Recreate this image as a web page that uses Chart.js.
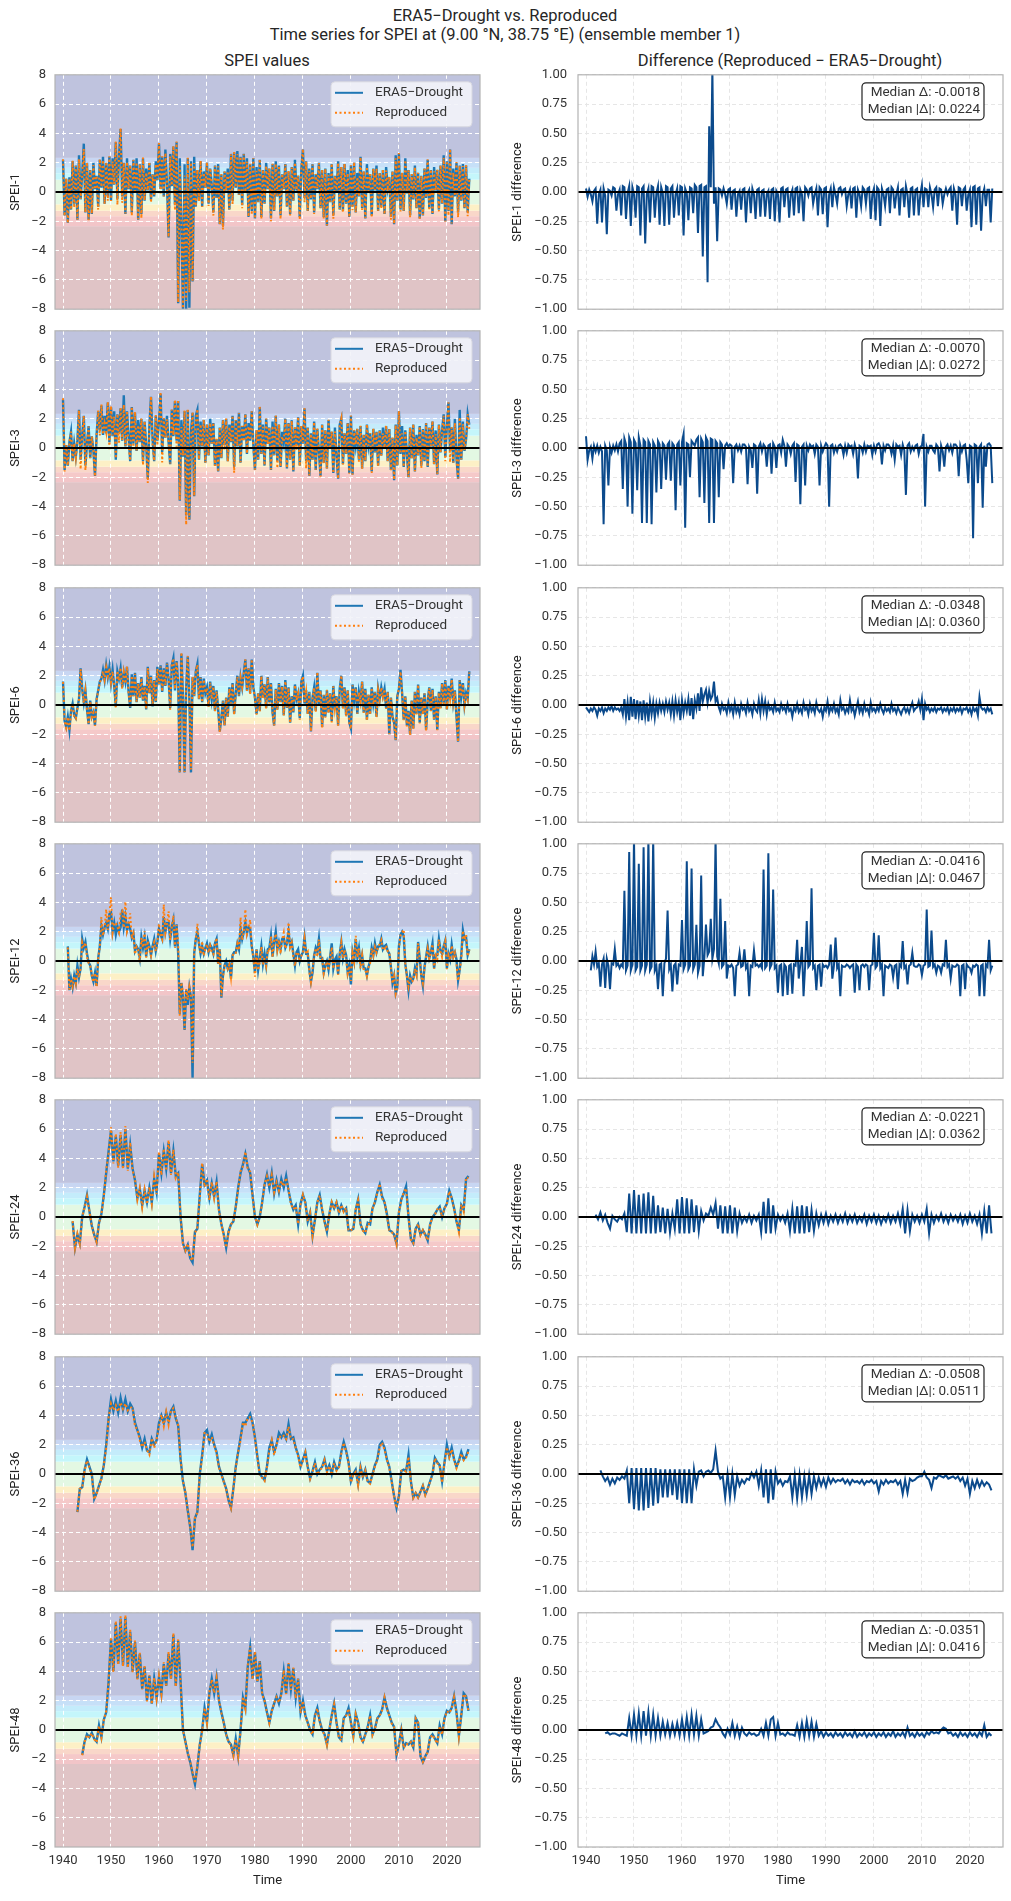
<!DOCTYPE html>
<html>
<head>
<meta charset="utf-8">
<script src="https://cdn.jsdelivr.net/npm/chart.js@4.4.0/dist/chart.umd.min.js"></script>
<style>
  body { margin: 0; background: #fff; width: 1011px; height: 1901px; position: relative; font-family: Roboto, sans-serif; color: #262626; overflow: hidden; }
  canvas { position: absolute; }
  .t { position: absolute; font-size: 16.5px; line-height: 19px; white-space: nowrap; transform: translateX(-50%); }
</style>
</head>
<body>
<div class="t" style="left:505px;top:6px">ERA5−Drought vs. Reproduced</div>
<div class="t" style="left:505px;top:25px">Time series for SPEI at (9.00 °N, 38.75 °E) (ensemble member 1)</div>
<div class="t" style="left:267px;top:51px">SPEI values</div>
<div class="t" style="left:790px;top:51px">Difference (Reproduced − ERA5−Drought)</div>
<script>
// ---- data (monthly series resampled by eye) ----
const scales = ['SPEI-1', 'SPEI-3', 'SPEI-6', 'SPEI-12', 'SPEI-24', 'SPEI-36', 'SPEI-48'];
const seriesStart = [1940, 1940, 1940, 1941, 1942, 1943, 1944];
const seriesStep = [1/3, 1/3, 1/3, 1/3, 0.5, 0.5, 0.5];
const medianDelta = ['-0.0018', '-0.0070', '-0.0348', '-0.0416', '-0.0221', '-0.0508', '-0.0351'];
const medianAbsDelta = ['0.0224', '0.0272', '0.0360', '0.0467', '0.0362', '0.0511', '0.0416'];
const xTicks = [1940, 1950, 1960, 1970, 1980, 1990, 2000, 2010, 2020];
const speiTicks = [-8, -6, -4, -2, 0, 2, 4, 6, 8];
const diffTicks = [-1, -0.75, -0.5, -0.25, 0, 0.25, 0.5, 0.75, 1];
// drought class edges for the shaded bands
const bandEdges = [-8, -2.33, -2.0, -1.65, -1.28, -0.84, 0.84, 1.28, 1.65, 2.0, 2.33, 8];

const spei1 = [
  2.2,-1.6,0.9, -2.1,1.0,-1.2, 2.1,-0.8,1.8, -1.9,2.5,-0.5, 1.2,3.3,-1.4,
  2.0,-1.9,1.5, -1.5,2.0,0.2, 1.1,-1.0,2.2, 0.3,2.4,-0.8, 2.0,-0.3,2.4,
  -0.6,2.3,0.5, 3.4,-0.5,2.4, 4.3,-0.3,2.0, -1.5,2.3,0.2, 1.8,-1.4,2.2,
  0.0,2.3,-1.9, 1.9,-1.5,2.3, -0.6,1.6,0.1, 2.0,-0.5,1.2, -0.3,2.1,0.8,
  3.3,0.2,2.4, -0.3,2.9,0.6, -3.1,2.6,0.4, 3.1,-0.9,3.4, -7.6,2.3,-2.0,
  -8.0,1.9,-8.0, 2.3,-7.9,2.1, -6.1,2.4,-1.0, 1.5,-0.6,2.1, -1.0,1.4,0.3,
  2.0,-0.8,1.6, 0.5,-1.4,1.8, -0.4,1.9,-2.2, 1.2,-2.3,1.4, 0.1,1.6,-1.2,
  2.6,-0.6,2.7, 0.3,2.8,-0.2, 2.4,-0.9,2.6, 0.0,2.3,-1.7, 1.9,-1.3,2.3,
  -1.8,1.7,-0.7, 2.2,-1.7,1.5, -0.8,2.0,0.2, 1.6,-1.8,1.9, -1.3,2.1,-0.3,
  1.8,-1.6,1.2, 0.2,1.9,-1.0, 1.4,-1.5,1.7, -0.6,2.2,0.1, 1.1,-1.7,1.6,
  2.9,-0.4,2.1, -1.3,1.6,-0.5, 1.9,-1.4,1.2, 0.2,2.0,-1.1, 1.5,-1.7,1.6,
  -2.3,1.3,-0.7, 1.9,-1.6,1.1, 0.0,2.1,-1.2, 1.7,-1.3,1.9, -0.8,1.5,-1.7,
  1.8,-1.0,2.0, -1.4,1.3,-0.3, 2.4,-1.1,1.4, -1.8,1.9,0.0, 1.2,-1.6,1.6,
  0.1,1.8,-1.3, 1.3,-1.0,1.5, -1.5,1.7,0.3, 1.0,-1.7,1.4, -2.2,2.5,-0.6,
  2.6,-1.2,1.3, -1.3,2.3,-0.1, 1.5,-1.6,1.2, -0.5,1.8,-1.1, 1.3,-1.8,1.1,
  -1.6,1.6,-0.4, 2.2,-1.1,1.5, -1.5,1.7,0.1, 1.5,-1.2,1.8, -0.8,2.5,-2.0,
  2.1,-1.3,2.9, -2.2,1.6,-0.3, 2.0,-1.4,1.8, -0.6,1.9,-1.1, 1.8,-1.4,0.9
];
const diff1 = [
  0.03,-0.04,0.02, -0.02,-0.08,0.01, 0.03,-0.27,-0.02, 0.02,-0.26,0.03, -0.03,-0.36,0.02,
  0.01,-0.03,0.04, 0.03,-0.16,-0.02, 0.02,-0.20,0.05, 0.04,-0.23,-0.01, 0.05,-0.29,0.04,
  -0.02,-0.22,0.05, 0.04,-0.37,0.03, 0.05,-0.44,-0.02, 0.03,-0.26,0.05, 0.04,-0.22,-0.01,
  0.05,-0.28,0.04, -0.01,-0.29,0.05, 0.04,-0.28,0.03, 0.05,-0.22,-0.02, 0.03,-0.20,0.05,
  0.04,-0.37,0.03, -0.01,-0.24,0.04, 0.03,-0.18,0.06, 0.04,-0.35,0.05, 0.06,-0.55,0.04,
  0.05,-0.77,0.56, 0.04,1.05,-0.10, 0.04,-0.42,0.03, 0.02,-0.03,0.03, -0.02,-0.10,0.02,
  0.03,-0.15,0.01, 0.02,-0.21,-0.02, 0.01,-0.15,0.02, 0.03,-0.26,-0.01, 0.02,-0.18,0.03,
  -0.02,-0.23,0.02, 0.03,-0.21,0.01, 0.02,-0.21,-0.02, 0.01,-0.23,0.02, 0.03,-0.25,0.01,
  -0.02,-0.26,0.03, 0.04,-0.13,0.02, 0.03,-0.22,-0.02, 0.02,-0.20,0.03, 0.04,-0.18,0.02,
  -0.02,-0.25,0.04, 0.02,-0.03,0.03, 0.04,-0.10,-0.02, 0.03,-0.20,0.04, 0.02,-0.19,0.03,
  0.04,-0.30,-0.02, 0.03,-0.13,0.04, -0.02,-0.10,0.03, 0.04,-0.02,0.02, 0.03,-0.12,-0.02,
  0.02,-0.14,0.03, 0.04,-0.22,0.02, -0.02,-0.12,0.04, 0.02,-0.10,0.03, 0.04,-0.23,-0.02,
  0.03,-0.24,0.04, 0.02,-0.29,0.03, -0.02,-0.12,0.02, 0.03,-0.18,0.04, 0.02,-0.14,-0.02,
  0.04,-0.20,0.02, 0.03,-0.13,0.05, -0.02,-0.22,0.03, 0.04,-0.20,0.02, 0.03,-0.20,-0.02,
  0.06,-0.13,0.03, 0.02,-0.13,0.04, -0.02,-0.13,0.02, 0.04,-0.12,0.03, 0.02,-0.10,-0.02,
  0.03,-0.02,0.02, 0.04,-0.16,0.03, -0.02,-0.28,0.04, 0.03,-0.12,0.02, 0.04,-0.16,-0.02,
  0.02,-0.30,0.04, 0.05,-0.28,0.03, 0.04,-0.33,-0.02, 0.03,-0.12,0.02, 0.02,-0.26,0.03
];
const spei3 = [
  3.3,-1.5,0.2, -1.2,0.4,1.1, -0.9,0.3,-0.6, 0.5,2.6,-0.8, 0.9,2.2,-1.2,
  0.3,1.5,-0.7, 0.8,-0.2,-1.9, 0.9,2.5,1.2, 2.9,0.9,2.2, 1.0,3.1,0.4,
  2.8,0.8,2.5, -0.8,2.3,1.0, 2.7,0.5,3.6, 0.1,2.5,0.8, -0.9,2.8,0.3,
  2.4,-0.2,1.9, 0.4,2.0,-0.9, 1.8,0.2,-2.1, 1.5,3.5,0.6, -0.9,2.2,0.5,
  1.8,3.7,-0.3, 2.0,0.7,2.2, 0.4,-1.1,2.6, 0.8,3.2,0.5, 3.2,-3.6,1.9,
  -0.6,2.5,-4.6, 2.6,-4.9,1.1, 2.4,-3.3,2.2, 2.6,-0.8,1.8, 0.1,1.9,-1.0,
  1.6,-0.5,2.0, 0.3,1.7,-1.2, 0.6,-1.6,1.4, -0.7,1.9,0.2, 2.0,-0.9,1.6,
  0.4,2.2,-1.3, 1.9,0.1,2.4, -1.0,1.5,0.6, 2.3,-0.4,1.7, 0.5,2.5,0.2,
  -1.5,1.2,-0.8, 2.8,-0.4,1.6, -1.2,2.0,0.3, 1.4,-1.5,1.8, -0.5,2.2,-0.9,
  1.6,-1.3,1.1, 0.4,2.0,-1.4, 1.7,-0.8,1.9, -1.6,1.4,0.2, 2.1,-1.2,1.5,
  0.3,2.7,-0.9, 1.4,-1.9,1.0, -0.8,1.8,-1.5, 1.3,-0.3,-1.9, 1.6,-1.0,1.2,
  -1.4,1.9,0.0, 1.1,-1.7,1.4, -0.6,-2.1,1.6, 2.0,-1.1,1.0, -0.4,1.7,-1.7,
  2.2,-1.8,1.2, 0.2,1.3,-0.8, 1.5,-1.4,0.9, -0.9,1.6,0.2, 1.0,-1.6,1.3,
  -0.3,1.1,-1.2, 1.2,-0.5,1.4, 0.0,1.5,-0.9, 1.3,-1.5,0.7, -2.2,1.6,-1.2,
  2.5,-0.4,1.5, -1.3,1.2,-0.4, -2.0,1.4,-0.7, 1.6,-1.6,0.9, -0.5,1.5,-1.2,
  1.3,-0.9,1.7, -1.3,1.4,0.1, 1.8,-1.1,1.2, -1.8,1.6,-0.3, 1.2,2.3,-0.6,
  1.5,3.1,-0.2, 1.4,-1.0,2.0, -0.7,-2.1,2.6, -0.8,1.8,-0.2, 0.6,2.3,1.6
];
const diff3 = [
  0.10,-0.10,-0.02, 0.01,-0.09,0.02, -0.03,0.02,-0.04, 0.01,-0.03,-0.65, 0.02,-0.02,-0.32,
  0.01,-0.04,0.02, -0.02,0.03,-0.03, 0.04,0.06,-0.35, 0.08,0.03,-0.50, 0.09,0.05,-0.56,
  0.07,0.04,-0.36, 0.09,0.02,-0.64, 0.07,0.05,-0.64, 0.06,0.03,-0.65, 0.05,0.02,-0.38,
  0.06,0.03,-0.35, 0.04,0.02,-0.27, 0.03,0.05,-0.28, 0.04,0.02,-0.53, 0.03,0.05,-0.32,
  0.05,0.12,-0.68, 0.04,0.03,-0.25, 0.06,0.04,0.02, 0.07,0.09,-0.42, 0.08,0.05,-0.47,
  0.09,0.06,-0.64, 0.08,0.07,-0.64, 0.06,0.04,-0.42, 0.05,0.03,-0.18, 0.02,0.04,0.01,
  0.03,0.02,-0.30, 0.01,0.03,-0.02, 0.02,-0.03,0.03, 0.03,0.01,-0.31, 0.01,-0.02,-0.17,
  0.03,0.02,-0.39, 0.01,0.04,-0.03, 0.03,0.01,-0.16, 0.02,0.03,-0.22, 0.04,0.01,-0.17,
  0.02,0.03,-0.04, 0.07,0.02,-0.16, 0.03,0.01,-0.05, 0.02,0.04,-0.29, 0.03,0.02,-0.48,
  0.01,0.03,-0.32, 0.02,-0.02,0.03, 0.01,0.02,-0.05, 0.03,0.01,-0.32, 0.02,-0.03,0.01,
  0.04,0.02,-0.50, 0.02,0.03,-0.04, 0.01,-0.03,0.02, 0.03,0.01,-0.06, 0.02,-0.04,0.03,
  0.01,0.02,-0.05, 0.03,-0.02,-0.26, 0.02,0.01,-0.04, 0.03,-0.03,0.02, 0.01,0.02,-0.06,
  0.02,-0.03,0.03, 0.04,0.01,-0.14, 0.02,-0.02,0.03, 0.03,0.01,-0.05, 0.02,-0.10,0.03,
  0.01,0.02,-0.06, 0.03,-0.02,-0.40, 0.02,0.04,-0.03, 0.01,-0.02,0.02, 0.03,-0.05,0.01,
  0.02,0.12,-0.50, 0.01,-0.03,0.02, 0.02,-0.02,-0.04, 0.03,0.01,-0.20, 0.02,-0.03,-0.16,
  0.01,0.03,-0.02, 0.02,-0.04,0.03, 0.03,0.01,-0.24, 0.02,-0.03,0.02, 0.03,-0.10,-0.30,
  0.02,0.01,-0.77, 0.03,0.02,-0.30, 0.01,0.03,-0.51, 0.02,-0.16,0.03, 0.04,0.02,-0.30
];
const spei6 = [
  1.6,-1.1,-1.5, -0.8,-1.7,-0.4, 0.1,-0.7,-0.9, -0.2,0.4,2.5, 1.1,0.2,1.0,
  -0.3,-1.3,0.3, -0.8,-0.5,-1.4, 0.4,1.0,1.6, 1.8,2.4,1.7, 2.7,1.9,2.6,
  1.5,2.4,1.3, -0.1,2.3,1.8, 2.5,1.2,2.2, 1.6,2.6,0.9, -0.2,2.1,0.6,
  2.2,0.2,1.5, 0.5,1.9,0.3, 1.3,-0.3,2.6, 0.8,2.0,-0.1, 1.7,0.2,2.6,
  1.4,2.7,0.9, 2.5,1.3,2.9, 1.8,-0.2,2.7, 3.2,1.0,3.0, 1.5,-4.6,3.5,
  0.6,-4.6,1.2, 3.3,0.4,-4.6, 1.9,0.6,2.3, 2.8,0.4,1.9, 0.2,1.8,0.8,
  1.2,-0.1,1.6, 0.4,1.3,-0.4, 1.0,-0.3,-1.8, -0.9,0.3,-1.4, 0.5,-0.8,1.2,
  0.1,1.5,-0.6, 0.8,2.0,0.6, 1.9,1.2,2.2, 3.1,1.0,2.5, 0.8,3.1,1.2,
  0.5,-0.6,0.8, -0.4,2.0,0.5, 1.4,-0.2,1.9, 0.2,1.5,-0.5, -1.4,1.1,-0.3,
  1.5,0.2,1.3, -0.7,1.7,-0.2, 1.2,-1.2,0.6, -0.5,1.4,0.4, 0.8,-0.9,1.6,
  2.0,0.1,1.0, -0.6,0.9,-1.8, 0.5,1.2,-0.4, 2.2,0.0,1.0, -1.5,0.7,-0.8,
  1.0,-0.5,0.8, -1.1,1.3,-0.3, 0.6,-1.4,1.1, 2.0,-0.2,1.2, -0.7,1.0,-1.2,
  -1.6,1.4,0.3, 1.2,-0.6,0.9, 0.3,1.6,-0.5, 1.1,-1.0,0.7, -0.6,1.2,0.1,
  0.9,-0.8,1.1, 0.4,1.2,0.6, 1.1,-0.2,0.9, -2.0,0.5,-0.8, -1.2,-2.4,0.6,
  1.1,2.4,0.8, -1.0,0.6,-1.4, -0.4,-2.0,0.3, -1.6,0.9,-0.6, 1.4,-1.2,0.5,
  -0.6,0.8,-1.7, 0.3,1.2,-0.4, 1.1,-1.0,0.6, -1.7,0.9,-0.2, 1.5,0.1,1.7,
  -0.3,1.3,0.4, 1.8,0.2,1.0, -0.8,-2.5,1.7, 0.6,1.5,0.0, 0.8,0.4,2.3
];
const diff6 = [
  -0.02,-0.04,-0.06, -0.03,-0.05,-0.02, -0.04,-0.09,-0.03, -0.05,-0.02,-0.07, -0.03,-0.05,-0.02,
  -0.04,-0.01,-0.05, -0.02,-0.04,-0.03, -0.05,-0.02,-0.08, 0.05,-0.10,0.02, -0.13,0.07,-0.10,
  0.05,-0.12,0.04, -0.09,0.03,-0.13, 0.04,-0.10,0.02, -0.14,0.03,-0.08, 0.02,-0.11,0.01,
  -0.07,0.02,-0.05, 0.01,-0.06,0.03, -0.04,0.02,-0.08, 0.03,-0.09,0.04, -0.06,0.02,-0.13,
  0.04,-0.07,0.02, -0.05,0.05,-0.09, 0.06,-0.12,0.04, -0.03,0.10,-0.05, 0.15,0.03,0.09,
  0.13,0.02,0.12, 0.05,0.08,0.20, 0.03,0.06,-0.02, -0.06,0.01,-0.04, -0.02,-0.07,0.02,
  -0.05,-0.01,-0.08, 0.02,-0.06,-0.02, -0.08,0.01,-0.04, -0.02,-0.07,0.02, -0.05,-0.02,-0.08,
  0.01,-0.04,-0.06, 0.04,-0.07,0.05, -0.05,0.03,-0.08, 0.01,-0.04,-0.02, -0.06,0.02,-0.05,
  -0.03,-0.06,0.01, -0.04,-0.02,-0.06, 0.01,-0.05,-0.03, -0.10,-0.02,-0.05, 0.01,-0.06,-0.03,
  -0.07,0.02,-0.04, -0.02,-0.08,0.01, -0.05,-0.02,-0.07, 0.02,-0.04,-0.06, -0.03,-0.10,-0.02,
  -0.05,0.03,-0.07, -0.02,-0.05,0.01, -0.06,-0.03,-0.08, 0.04,-0.04,-0.02, -0.07,-0.03,-0.06,
  0.04,-0.05,-0.02, -0.09,-0.03,0.03, -0.06,-0.02,-0.07, 0.01,-0.05,-0.03, -0.08,0.02,-0.05,
  -0.03,-0.06,-0.02, -0.05,0.01,-0.04, -0.07,-0.02,-0.05, -0.03,-0.06,0.01, -0.05,-0.03,-0.07,
  -0.02,-0.05,-0.08, -0.04,-0.02,-0.06, -0.03,-0.07,-0.02, 0.02,-0.05,-0.03, -0.02,0.03,-0.04,
  0.05,-0.13,0.01, -0.04,-0.02,-0.06, -0.03,-0.05,-0.02, -0.06,-0.03,-0.04, -0.02,-0.06,-0.03,
  -0.05,-0.02,-0.07, -0.03,-0.05,-0.02, -0.06,-0.03,-0.05, -0.02,-0.07,-0.03, -0.04,-0.02,-0.06,
  -0.03,-0.08,-0.02, -0.05,-0.03,-0.09, 0.07,-0.02,-0.04, -0.03,-0.06,-0.02, -0.05,-0.03,-0.08
];
const spei12 = [
  1.0,-2.0,-1.2, -1.8,-1.0,-1.5, -0.3,-1.1,-0.5, 1.5,0.9,1.3, 0.5,-0.1,-0.3,
  -1.0,-1.4,-0.8, -1.7,0.2,1.0, 2.4,1.8,2.3, 2.6,2.2,3.2, 3.3,2.0,2.6,
  1.8,2.4,2.0, 2.3,3.5,2.3, 3.0,2.1,2.5, 2.2,1.6,1.9, 0.7,1.0,0.8,
  0.2,1.6,0.9, 1.6,0.3,1.4, 1.0,0.4,1.0, 1.5,0.7,1.3, 2.2,1.8,1.5,
  3.0,2.0,2.6, 2.6,1.5,2.3, 2.8,1.0,2.5, 0.5,-3.6,-1.5, -2.5,-4.7,-2.0,
  -3.0,-1.8,-2.5, -8.0,0.5,1.5, 2.0,1.2,0.5, 1.0,0.5,0.9, 1.2,0.6,1.1,
  0.9,0.5,1.2, 1.5,-0.2,0.8, -2.5,-1.0,-0.3, 0.0,-0.5,-0.2, -1.2,0.4,0.6,
  0.6,1.2,0.8, 2.2,1.5,2.0, 2.6,1.9,2.3, 2.2,1.0,0.3, -0.8,0.8,-0.6,
  0.2,1.0,-0.2, 0.5,-0.3,0.8, 0.9,1.7,0.3, 1.3,2.0,0.8, 1.3,0.8,1.5,
  1.6,0.9,1.2, 2.0,1.0,1.3, 0.5,-0.3,0.6, 0.8,0.0,0.4, 0.6,1.6,0.5,
  0.5,-0.6,-1.4, -0.8,0.4,0.9, 0.6,1.5,0.2, 0.2,-0.8,-0.3, 0.0,-0.6,0.3,
  1.2,-0.5,0.1, 0.3,-0.9,0.5, 1.3,0.2,0.8, 0.4,-0.8,-0.3, -1.6,0.6,0.0,
  1.5,0.3,0.9, -0.2,0.4,-0.5, -0.5,-1.0,-0.4, 0.0,0.9,0.4, 1.2,0.6,1.0,
  1.0,1.5,0.8, 1.0,1.1,0.7, 0.5,-0.4,-1.5, -1.0,-2.2,-1.8, 1.0,1.8,2.0,
  1.7,-0.2,-1.0, -2.0,-1.0,-1.4, -1.2,-0.5,-0.9, 1.3,0.2,-1.0, -1.7,-0.4,0.3,
  1.0,0.2,0.6, 1.2,-0.5,0.4, 0.4,1.5,0.7, 0.5,1.0,1.4, -0.5,0.5,0.1,
  1.1,0.3,0.6, 0.1,-1.3,-0.6, 0.4,2.1,1.5, 1.6,0.4,0.8
];
const diff12 = [
  -0.08,0.04,-0.03, 0.08,-0.05,-0.02, -0.22,-0.03,0.02, -0.23,0.02,-0.04, -0.24,-0.02,-0.03,
  0.10,-0.04,-0.02, -0.06,-0.03,-0.05, 0.60,-0.08,-0.04, 0.93,-0.08,-0.03, 1.05,-0.08,-0.05,
  0.83,-0.08,-0.04, 0.97,-0.08,-0.03, 1.05,-0.08,-0.05, 1.05,-0.08,-0.04, -0.24,-0.03,-0.02,
  -0.30,-0.02,0.02, 0.43,-0.07,-0.03, -0.26,-0.04,-0.02, -0.20,-0.03,-0.04, 0.35,-0.07,-0.03,
  0.85,-0.07,-0.04, 0.79,-0.07,-0.03, 0.31,-0.10,-0.04, 0.73,-0.13,0.03, 0.31,0.05,0.08,
  0.36,0.02,0.10, 1.05,0.04,-0.02, 0.53,-0.05,-0.03, 0.34,-0.15,-0.04, -0.05,-0.03,-0.06,
  -0.30,-0.04,-0.03, 0.07,-0.05,-0.04, 0.10,-0.06,-0.03, -0.30,-0.04,-0.05, 0.09,-0.04,-0.03,
  -0.05,-0.03,-0.06, 0.78,-0.06,-0.04, 0.92,-0.06,-0.03, 0.61,-0.06,-0.04, -0.27,-0.04,-0.03,
  -0.30,-0.03,-0.05, -0.29,-0.04,-0.03, -0.28,-0.03,-0.04, 0.18,-0.15,-0.03, 0.12,-0.30,-0.04,
  0.34,-0.05,-0.03, 0.62,-0.06,-0.04, -0.25,-0.04,-0.03, -0.22,-0.03,-0.05, -0.04,-0.06,-0.03,
  0.14,-0.15,-0.04, 0.20,-0.06,-0.03, -0.30,-0.04,-0.05, -0.05,-0.03,-0.04, -0.06,-0.04,-0.03,
  -0.27,-0.03,-0.05, -0.25,-0.04,-0.03, -0.05,-0.03,-0.04, -0.25,-0.04,-0.03, 0.24,-0.06,-0.04,
  0.22,-0.06,-0.03, -0.30,-0.04,-0.05, -0.06,-0.03,-0.04, -0.14,-0.04,-0.03, -0.24,-0.03,-0.05,
  0.17,-0.06,-0.04, -0.20,-0.04,-0.03, 0.07,-0.04,-0.05, -0.05,-0.03,-0.04, -0.12,-0.04,-0.03,
  0.44,-0.05,-0.04, 0.26,-0.05,-0.03, -0.10,-0.04,-0.05, -0.10,-0.03,-0.04, 0.18,-0.05,-0.03,
  -0.15,-0.04,-0.05, -0.05,-0.03,-0.04, -0.30,-0.04,-0.03, -0.24,-0.03,-0.05, -0.06,-0.10,-0.04,
  -0.05,-0.03,-0.04, -0.30,-0.04,-0.03, -0.30,-0.03,-0.05, 0.18,-0.08,-0.04
];
const spei24 = [
  -0.3,-2.1, -1.2,-1.8, 0.0,0.7, 1.5,0.4, -0.6,-1.2, -1.7,-0.4, 0.2,1.5, 3.0,4.5,
  5.9,3.8, 5.5,3.5, 5.6,3.4, 6.0,3.3, 4.9,3.3, 2.5,1.3, 1.9,0.8, 1.8,1.0,
  2.0,1.0, 2.6,1.7, 4.3,3.0, 4.5,3.3, 5.1,3.0, 4.5,2.8, 3.0,0.0, -1.8,-2.3,
  -1.9,-2.8, -3.1,-1.0, -0.8,1.5, 3.6,2.2, 2.5,1.3, 2.3,1.4, 2.4,0.5, -0.5,-1.2,
  -2.1,-1.0, -0.5,-0.3, 0.7,2.0, 3.0,3.6, 4.3,3.4, 3.0,1.5, 0.0,-0.5, 0.0,1.0,
  2.2,2.9, 2.0,3.0, 1.6,2.5, 1.7,2.6, 2.0,2.8, 1.8,1.0, 0.5,0.8, -0.5,0.9,
  1.5,1.0, -0.3,0.3, -1.3,-0.2, 1.0,1.5, 0.5,-0.3, -1.0,0.2, 1.0,0.6, 1.0,0.3,
  0.8,0.4, 0.6,-0.9, -0.9,-0.8, 0.5,1.2, -0.5,-0.9, -1.1,-0.4, -0.5,0.6, 1.0,1.7,
  2.2,1.4, 1.0,0.2, -0.9,-1.0, -1.2,-1.8, 0.3,1.2, 1.6,2.1, 0.0,-1.5, -1.8,-0.8,
  -0.5,-1.2, -0.9,-1.2, -1.6,-0.5, 0.0,0.2, 0.5,0.7, 0.0,0.6, 0.9,1.8, 1.3,0.6,
  -0.3,-0.9, 0.8,0.5, 2.6,2.8
];
const diff24 = [
  0.02,-0.02, 0.04,-0.03, 0.02,-0.05, -0.10,0.01, -0.02,-0.04, 0.00,-0.02, 0.03,-0.13, 0.20,-0.14,
  0.23,-0.14, 0.19,-0.14, 0.20,-0.14, 0.21,-0.14, 0.18,-0.14, 0.10,-0.13, 0.08,-0.14, 0.07,-0.13,
  0.03,-0.10, 0.15,-0.14, 0.17,-0.14, 0.16,-0.14, 0.15,-0.13, 0.10,-0.12, 0.05,-0.03, 0.03,0.01,
  0.08,0.02, 0.12,-0.10, 0.10,-0.14, 0.09,-0.14, 0.10,-0.14, 0.08,-0.12, 0.03,-0.05, 0.00,-0.04,
  0.02,-0.05, 0.01,-0.03, 0.02,-0.13, 0.13,-0.14, 0.16,-0.14, 0.10,-0.10, 0.02,-0.03, 0.01,-0.05,
  0.03,-0.12, 0.07,-0.14, 0.09,-0.14, 0.10,-0.14, 0.09,-0.13, 0.06,-0.12, 0.03,-0.07, 0.02,-0.05,
  0.03,-0.06, 0.01,-0.04, 0.02,-0.05, 0.01,-0.04, 0.03,-0.05, 0.01,-0.04, 0.02,-0.05, 0.00,-0.04,
  0.02,-0.06, 0.01,-0.04, 0.02,-0.05, 0.01,-0.06, 0.00,-0.04, 0.02,-0.05, 0.01,-0.04, 0.03,-0.06,
  0.07,-0.14, 0.06,-0.12, 0.02,-0.04, 0.01,-0.05, 0.02,-0.04, 0.07,-0.14, 0.02,-0.05, 0.01,-0.03,
  0.03,-0.04, 0.01,-0.05, 0.02,-0.03, 0.01,-0.04, 0.02,-0.06, 0.01,-0.05, 0.03,-0.04, 0.01,-0.06,
  0.02,-0.14, 0.05,-0.14, 0.10,-0.14
];
const spei36 = [
  -2.6,-1.0, -0.9,0.3, 1.0,0.5, 0.0,-1.7, -1.3,-0.8, -0.3,0.6, 2.0,3.8, 5.1,4.3,
  5.0,4.2, 5.2,4.4, 5.1,4.3, 4.8,4.5, 3.5,3.0, 2.5,1.8, 2.4,1.6, 1.5,2.4,
  2.0,2.3, 3.5,4.0, 3.5,4.2, 3.6,4.3, 4.6,3.8, 3.3,1.0, -0.5,-1.3, -2.5,-3.6,
  -5.2,-3.0, -2.6,0.0, 1.3,2.8, 3.0,2.2, 2.7,2.0, 1.5,0.5, 0.0,-0.5, -1.0,-1.8,
  -2.3,-1.0, 0.5,1.5, 2.5,3.5, 3.5,3.8, 4.1,3.5, 2.5,1.2, 0.0,-0.2, -0.4,0.5,
  1.8,2.3, 1.5,2.0, 2.8,2.5, 2.8,2.4, 3.4,2.4, 2.5,1.8, 1.3,0.5, 1.0,1.5,
  0.5,-0.3, 0.2,0.8, 0.0,0.3, 0.5,1.0, 0.2,0.6, 0.0,0.8, 0.3,0.5, 1.5,2.2,
  1.6,0.8, -0.5,0.0, 0.3,-0.7, 0.5,-0.2, 0.3,-0.5, -0.6,0.0, 0.6,1.0, 2.0,2.2,
  1.8,1.0, 0.5,-0.5, -1.5,-2.3, -1.5,0.2, 0.3,0.2, 1.3,-0.5, -1.6,-1.3, -1.6,-1.2,
  -0.8,-1.4, -1.0,-0.5, 0.0,1.1, 0.8,0.6, -0.5,0.8, 2.0,1.2, 1.8,1.0, 0.5,0.9,
  1.5,1.0, 1.2,1.7
];
const diff36 = [
  0.03,-0.02, -0.06,-0.03, -0.09,-0.04, -0.08,-0.03, -0.05,-0.02, -0.04,0.03, -0.25,0.05, -0.30,0.05,
  -0.31,0.05, -0.31,0.05, -0.29,0.05, -0.27,0.05, -0.25,0.04, -0.20,0.04, -0.20,0.04, -0.18,0.04,
  -0.22,0.04, -0.25,0.04, -0.25,0.04, -0.25,0.04, -0.10,0.02, 0.03,-0.02, 0.02,0.03, 0.01,0.04,
  0.20,0.02, -0.04,-0.02, -0.20,0.00, -0.20,0.00, -0.18,-0.02, -0.10,-0.05, -0.08,-0.04, -0.05,0.01,
  -0.03,0.02, -0.10,0.03, -0.20,0.04, -0.25,0.04, -0.22,0.02, -0.08,-0.05, -0.10,-0.06, -0.07,-0.02,
  -0.20,-0.01, -0.21,-0.01, -0.20,-0.02, -0.18,-0.01, -0.17,-0.02, -0.12,-0.03, -0.10,-0.04, -0.11,-0.03,
  -0.08,-0.04, -0.07,-0.05, -0.06,-0.04, -0.08,-0.05, -0.09,-0.05, -0.07,-0.06, -0.08,-0.05, -0.09,-0.06,
  -0.07,-0.05, -0.08,-0.06, -0.15,-0.06, -0.09,-0.05, -0.08,-0.06, -0.07,-0.05, -0.09,-0.06, -0.17,-0.05,
  -0.16,-0.04, -0.06,-0.05, -0.03,-0.02, -0.02,0.02, -0.03,-0.05, -0.12,-0.03, -0.04,-0.01, -0.02,-0.03,
  -0.01,-0.04, -0.03,-0.02, -0.04,-0.02, -0.06,-0.03, -0.10,-0.04, -0.17,-0.06, -0.12,-0.05, -0.11,-0.06,
  -0.10,-0.07, -0.09,-0.14
];
const spei48 = [
  -1.7,-0.8, -0.3,-0.5, -0.2,-0.6, -0.8,0.3, -0.5,0.7, 1.2,3.3, 6.2,4.0, 7.3,4.5,
  7.6,4.4, 7.7,4.3, 6.7,4.0, 6.0,3.5, 5.2,2.8, 4.3,2.0, 3.7,1.8, 3.5,2.2,
  3.6,2.5, 4.5,3.0, 5.2,3.5, 6.5,3.0, 6.1,3.3, 0.0,-0.8, -1.6,-2.2, -3.0,-3.7,
  -2.5,-1.0, 0.0,1.5, 0.5,2.5, 3.5,2.5, 3.6,2.0, 1.2,0.5, -0.3,-0.8, -1.0,-1.7,
  -0.6,-1.8, 0.0,2.2, 1.5,4.3, 5.6,3.5, 5.3,3.3, 4.7,2.5, 2.0,1.2, 0.5,1.3,
  1.8,2.3, 1.8,2.5, 4.0,2.5, 4.5,2.8, 4.2,2.2, 3.5,1.2, 2.0,1.0, 0.5,0.0,
  -0.3,1.0, 1.5,0.6, 0.0,-0.3, -1.0,0.0, 1.0,1.8, 0.5,-0.5, -0.7,0.8, 1.0,1.5,
  0.5,-0.4, 1.1,0.5, -0.5,-0.8, -0.3,0.2, 1.0,-0.3, 0.1,0.8, 1.0,1.4, 2.2,1.5,
  1.0,0.5, 0.2,-1.7, -1.0,0.0, -1.2,-0.9, -1.0,-0.8, -1.2,0.8, 0.5,-1.8, -2.2,-1.8,
  -1.5,-0.5, -0.3,-0.6, -0.9,0.3, -0.3,0.8, 1.3,1.2, 1.5,2.3, 1.2,-0.4, 1.0,2.5,
  2.3,1.3
];
const diff48 = [
  -0.03,-0.02, -0.04,-0.03, -0.03,-0.04, -0.05,-0.03, -0.04,-0.05, 0.10,-0.05, 0.13,-0.05, 0.14,-0.05,
  0.16,-0.05, 0.15,-0.05, 0.13,-0.05, 0.10,-0.05, 0.07,-0.04, 0.06,-0.05, 0.05,-0.04, 0.06,-0.05,
  0.09,-0.05, 0.11,-0.05, 0.13,-0.04, 0.12,-0.05, 0.09,-0.03, -0.02,-0.01, 0.02,0.03, 0.09,0.05,
  0.02,-0.03, -0.06,0.01, -0.04,0.06, -0.05,0.03, -0.06,0.02, -0.03,-0.05, -0.02,-0.04, -0.03,-0.05,
  -0.04,0.01, -0.05,0.06, -0.05,0.09, 0.11,-0.05, 0.06,-0.04, -0.03,-0.05, -0.02,-0.04, -0.04,-0.05,
  0.04,-0.06, 0.06,-0.06, 0.08,-0.05, 0.07,-0.06, 0.05,-0.05, -0.01,-0.06, -0.02,-0.05, -0.03,-0.06,
  -0.02,-0.05, -0.03,-0.06, -0.02,-0.05, -0.03,-0.06, -0.01,-0.06, -0.03,-0.05, -0.02,-0.06, -0.03,-0.05,
  -0.02,-0.06, -0.03,-0.05, -0.02,-0.06, -0.03,-0.05, -0.01,-0.06, -0.03,-0.05, -0.02,-0.06, 0.02,-0.05,
  -0.03,-0.06, -0.02,-0.05, -0.03,-0.06, -0.02,-0.04, -0.01,-0.03, -0.02,-0.03, 0.00,0.02, 0.01,-0.03,
  -0.02,-0.05, -0.03,-0.06, -0.02,-0.05, -0.03,-0.06, -0.02,-0.05, -0.03,-0.06, -0.02,-0.05, 0.04,-0.06,
  -0.03,-0.05
];
const era5Values = [spei1, spei3, spei6, spei12, spei24, spei36, spei48];
const diffValues = [diff1, diff3, diff6, diff12, diff24, diff36, diff48];

// ---- styling / layout ----
Chart.defaults.font.family = 'Roboto, sans-serif';
Chart.defaults.color = '#333';
const X_MIN = 1938.33, X_MAX = 2026.9;
const ROW_TOPS = [75, 331, 588, 844, 1100, 1357, 1613];
const PLOT_H = 234;
const bandColors = ['#e0c4c6', '#f2c5c8', '#f5c9c9', '#f9d7c9', '#fdf0c6', '#e3f8e3',
                    '#c4f6fb', '#c4ecfb', '#c6e0f8', '#c8d6f2', '#bfc3de'];

const minusFmt = (v, d) => (v < 0 ? '\u2212' : '') + Math.abs(v).toFixed(d);

function points(start, step, vals) {
  return vals.map((v, i) => ({ x: start + i * step, y: v }));
}

function addCanvas(left, top, w, h) {
  const c = document.createElement('canvas');
  c.width = w; c.height = h;
  c.style.left = left + 'px'; c.style.top = top + 'px';
  c.style.width = w + 'px'; c.style.height = h + 'px';
  document.body.appendChild(c);
  return c;
}

// move/resize the canvas so the plot area lands exactly on [top, top + plotH]
function placeArea(chart, top, plotH) {
  const a = chart.chartArea;
  const t = a.top, b = chart.height - a.bottom;
  const newH = Math.round(plotH + t + b);
  chart.canvas.style.top = Math.round(top - t) + 'px';
  chart.canvas.style.height = newH + 'px';
  chart.resize(chart.width, newH);
}

const bandsPlugin = {
  id: 'bands',
  beforeDraw(chart) {
    const { ctx, chartArea: a, scales: { y } } = chart;
    ctx.save();
    for (let i = 0; i < bandColors.length; i++) {
      const y0 = y.getPixelForValue(bandEdges[i]);
      const y1 = y.getPixelForValue(bandEdges[i + 1]);
      ctx.fillStyle = bandColors[i];
      ctx.fillRect(a.left, y1, a.right - a.left, y0 - y1);
    }
    ctx.restore();
  }
};

const zeroAndFrame = {
  id: 'zeroAndFrame',
  afterDatasetsDraw(chart) {
    const { ctx, chartArea: a, scales: { y } } = chart;
    const py = y.getPixelForValue(0);
    ctx.save();
    ctx.strokeStyle = '#000';
    ctx.lineWidth = 2;
    ctx.beginPath(); ctx.moveTo(a.left, py); ctx.lineTo(a.right, py); ctx.stroke();
    ctx.strokeStyle = '#b3b3b3';
    ctx.lineWidth = 1.2;
    ctx.strokeRect(a.left, a.top, a.right - a.left, a.bottom - a.top);
    ctx.restore();
  }
};

const legendBox = {
  id: 'legendBox',
  afterDraw(chart) {
    const { ctx, chartArea: a } = chart;
    const x0 = a.right - 149, y0 = a.top + 7, w = 141, h = 45;
    ctx.save();
    ctx.beginPath(); ctx.roundRect(x0, y0, w, h, 4);
    ctx.fillStyle = 'rgba(242,243,248,0.92)'; ctx.fill();
    ctx.strokeStyle = '#d8d8e0'; ctx.lineWidth = 1; ctx.stroke();
    ctx.lineWidth = 2;
    ctx.strokeStyle = '#1f77b4';
    ctx.beginPath(); ctx.moveTo(x0 + 4, y0 + 11); ctx.lineTo(x0 + 32, y0 + 11); ctx.stroke();
    ctx.strokeStyle = '#ff7f0e'; ctx.setLineDash([2, 2.5]);
    ctx.beginPath(); ctx.moveTo(x0 + 4, y0 + 31); ctx.lineTo(x0 + 32, y0 + 31); ctx.stroke();
    ctx.setLineDash([]);
    ctx.fillStyle = '#333';
    ctx.font = '13.5px Roboto, sans-serif';
    ctx.textBaseline = 'middle';
    ctx.fillText('ERA5\u2212Drought', x0 + 44, y0 + 11);
    ctx.fillText('Reproduced', x0 + 44, y0 + 31);
    ctx.restore();
  }
};

function statsBox(row) {
  return {
    id: 'statsBox',
    afterDraw(chart) {
      const { ctx, chartArea: a } = chart;
      const x0 = a.right - 141, y0 = a.top + 8, w = 122, h = 37;
      ctx.save();
      ctx.beginPath(); ctx.roundRect(x0, y0, w, h, 4);
      ctx.fillStyle = '#fff'; ctx.fill();
      ctx.strokeStyle = '#222'; ctx.lineWidth = 1.2; ctx.stroke();
      ctx.fillStyle = '#333';
      ctx.font = '13.5px Roboto, sans-serif';
      ctx.textAlign = 'right';
      ctx.textBaseline = 'middle';
      ctx.fillText('Median \u0394: ' + medianDelta[row], a.right - 23, y0 + 10);
      ctx.fillText('Median |\u0394|: ' + medianAbsDelta[row], a.right - 23, y0 + 27);
      ctx.restore();
    }
  };
}

function xScale(isLast, gridColor) {
  return {
    type: 'linear', min: X_MIN, max: X_MAX,
    afterBuildTicks: s => { s.ticks = xTicks.map(v => ({ value: v })); },
    afterFit: s => { s.height = isLast ? 44 : 0; },
    ticks: { display: isLast, padding: 6, font: { size: 13 }, callback: v => String(v) },
    title: { display: isLast, text: 'Time', font: { size: 13 }, color: '#222', padding: { top: 2, bottom: 2 } },
    grid: { color: gridColor, lineWidth: 1, drawTicks: false },
    border: { display: false, dash: [4, 3] }
  };
}

function makeRow(row) {
  const isLast = row === ROW_TOPS.length - 1;
  const top = ROW_TOPS[row] - 10;
  const h = 10 + PLOT_H + (isLast ? 53 : 10);
  const start = seriesStart[row], step = seriesStep[row];
  const era5 = era5Values[row], diff = diffValues[row];
  const repro = era5.map((v, i) => +(v + diff[i]).toFixed(3));
  const common = {
    animation: false, responsive: false, maintainAspectRatio: false, events: [],
    plugins: { legend: { display: false }, tooltip: { enabled: false } }
  };

  const left = new Chart(addCanvas(0, top, 490, h), {
    type: 'line',
    data: {
      datasets: [
        { label: 'Reproduced', data: points(start, step, repro), borderColor: '#ff7f0e',
          borderWidth: 2, borderDash: [2, 2.5], pointRadius: 0, order: 0 },
        { label: 'ERA5\u2212Drought', data: points(start, step, era5), borderColor: '#1f77b4',
          borderWidth: 2.4, pointRadius: 0, order: 1 }
      ]
    },
    options: Object.assign({}, common, {
      layout: { padding: { top: 10, right: 10, bottom: isLast ? 5 : 10, left: 0 } },
      scales: {
        x: xScale(isLast, '#ffffff'),
        y: {
          min: -8, max: 8,
          afterBuildTicks: s => { s.ticks = speiTicks.map(v => ({ value: v })); },
          afterFit: s => { s.width = 55; },
          ticks: { padding: 9, font: { size: 13 }, callback: v => minusFmt(v, 0) },
          title: { display: true, text: scales[row], font: { size: 13 }, color: '#222', padding: { top: 8, bottom: 0 } },
          grid: { color: '#ffffff', lineWidth: 1, drawTicks: false },
          border: { display: false, dash: [4, 3] }
        }
      }
    }),
    plugins: [bandsPlugin, zeroAndFrame, legendBox]
  });
  placeArea(left, ROW_TOPS[row], PLOT_H);

  const right = new Chart(addCanvas(500, top, 511, h), {
    type: 'line',
    data: {
      datasets: [
        { label: 'Difference', data: points(start, step, diff), borderColor: '#0b4a8c',
          borderWidth: 2, pointRadius: 0 }
      ]
    },
    options: Object.assign({}, common, {
      layout: { padding: { top: 10, right: 8, bottom: isLast ? 5 : 10, left: 0 } },
      scales: {
        x: xScale(isLast, '#e6e6e6'),
        y: {
          min: -1, max: 1,
          afterBuildTicks: s => { s.ticks = diffTicks.map(v => ({ value: v })); },
          afterFit: s => { s.width = 78; },
          ticks: { padding: 11, font: { size: 13 }, callback: v => minusFmt(v, 2) },
          title: { display: true, text: scales[row] + ' difference', font: { size: 13 }, color: '#222', padding: { top: 10, bottom: 0 } },
          grid: { color: '#e6e6e6', lineWidth: 1, drawTicks: false },
          border: { display: false, dash: [4, 3] }
        }
      }
    }),
    plugins: [zeroAndFrame, statsBox(row)]
  });
  placeArea(right, ROW_TOPS[row], PLOT_H);
}

for (let r = 0; r < ROW_TOPS.length; r++) makeRow(r);
</script>
</body>
</html>
